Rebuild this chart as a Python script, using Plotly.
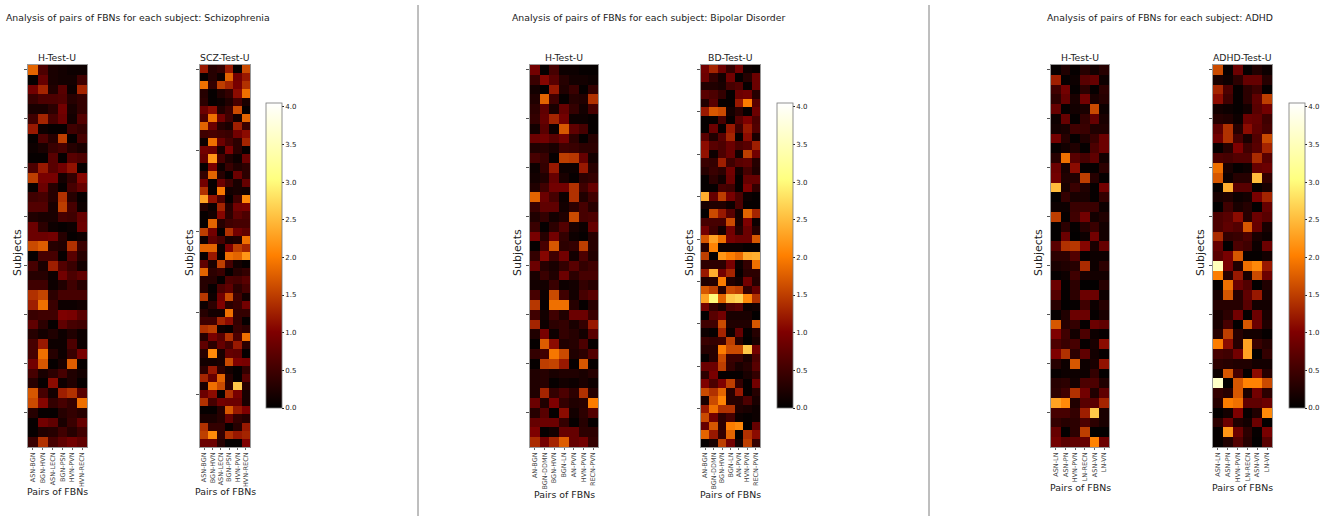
import plotly.graph_objects as go

W = 1325
H = 521

scz_pairs = ["ASN-BGN", "BGN-HVN", "ASN-LECN", "BGN-PSN", "HVN-PVN", "HVN-RECN"]
bd_pairs = ["AN-BGN", "BGN-DDMN", "BGN-HVN", "BGN-LN", "AN-PVN", "HVN-PVN", "RECN-PVN"]
adhd_pairs = ["ASN-LN", "ASN-PN", "HVN-PVN", "LN-RECN", "ASN-VN", "LN-VN"]

h_scz = [
    [1.8, .6, .2, .15, .1, .1], [.05, .8, .2, .15, .15, .5], [.9, 1.3, .25, .7, .1, 1.3],
    [.45, .6, .6, .65, .3, .4], [.2, .2, .35, .9, .2, .4], [.5, 1.3, .55, .85, .15, .65],
    [1.2, .1, .05, .05, .5, .4], [.05, .6, .3, 1.5, .05, .55], [.1, .2, .45, .55, .3, .2],
    [.05, .05, .7, .05, .7, .6], [.6, 1.2, .7, .9, 1.15, .05], [1.5, .95, .95, .15, .4, 1.05],
    [.05, .85, .3, .05, .55, .8], [.5, .55, .3, 1.4, .3, .05], [.65, .65, .2, 1.5, .55, .1],
    [.25, .2, .2, .55, .5, .8], [.85, .35, .1, .05, .1, .85], [.85, .85, .9, .3, .05, .1],
    [1.6, 1.75, .3, .25, 1.4, .45], [.05, .55, .55, .05, .7, .3], [.55, .2, 1.25, .65, .45, .15],
    [.3, .3, .1, .9, .6, .75], [.5, .5, .1, .25, .5, .3], [1.4, 1.55, .35, .55, .55, .55],
    [1.25, 1.9, .45, .1, .1, .15], [.45, .5, .5, 1.0, .95, .7], [.75, .35, .05, .75, .55, .5],
    [.3, .15, .25, .1, .25, .1], [.55, 1.2, .1, .1, .6, .1], [.55, 1.9, .3, .1, .45, .95],
    [.9, 1.7, .05, .2, 1.75, .05], [.55, .2, .35, .55, .25, .15], [.3, .05, 1.1, .1, .25, .05],
    [1.7, .55, .15, 1.25, 1.4, .7], [1.6, 1.05, .4, .55, .4, 1.9], [.3, .05, .05, .3, .4, .3],
    [.05, .9, .75, .2, .45, .8], [.05, .25, .3, .5, .3, .5], [.45, 1.4, .55, .75, .9, .75],
]
scz = [
    [1.2, .3, .4, 1.2, .05, 1.6], [.05, .3, .1, 1.8, .9, 1.2], [1.9, .4, 1.5, 1.3, .95, 1.4],
    [.3, .05, .25, .4, 1.1, 1.9], [.35, .05, .1, .25, .55, .2], [.85, 1.1, .25, .45, 1.6, .05],
    [.6, 1.9, .9, .5, .15, 1.8], [1.8, .85, .3, .2, 1.25, .45], [.5, .55, .5, .45, .9, 1.1],
    [.1, 1.9, .85, .55, .35, 1.3], [.9, .85, .2, 1.0, .35, .05], [.8, 2.2, .55, .25, .1, .85],
    [.05, .95, .1, .45, .25, .35], [.4, 1.8, .3, .05, .85, .35], [.9, .05, .85, .5, .2, .8],
    [1.4, .05, 1.95, .15, .2, .15], [2.3, 1.15, .6, .05, .5, 2.1], [.3, .1, 1.3, .3, .9, .95],
    [.05, .15, 1.05, .35, .75, .6], [.05, 1.8, .3, .5, .55, .55], [1.5, .9, .05, 1.4, .9, .75],
    [.1, .75, .55, .2, .25, 1.9], [1.8, 1.8, .1, 1.0, 1.5, 1.3], [.05, 1.2, .05, 1.9, 1.8, 2.2],
    [.75, .2, 1.5, .55, .15, .05], [1.8, .35, .45, .05, .3, .4], [.3, .3, .05, .6, .55, .7],
    [.3, .05, .6, .75, .35, .55], [1.45, .1, .9, 1.6, .5, .15], [.1, .35, 1.0, .35, .45, .9],
    [.3, .15, .15, 1.9, .4, .4], [.5, .5, 1.3, 1.1, .4, .05], [1.4, 1.5, .1, .05, .45, .35],
    [.3, .95, .7, 1.4, .6, 1.9], [.75, .35, .8, .55, 1.2, .35], [.3, 2.1, .2, .8, .75, .05],
    [.15, .15, .2, 1.6, 1.0, .95], [.35, 1.2, .35, .15, .05, .4], [1.3, .8, 1.8, .3, .05, .7],
    [.2, 1.9, 1.6, .35, 2.6, .3], [.85, 1.1, .05, 1.4, .95, .2], [1.4, .55, .9, .85, .85, .2],
    [.05, .05, .3, 1.7, 1.2, 1.0], [.2, .2, .3, .8, .4, .3], [1.4, .4, .4, .05, .3, 1.2],
    [1.5, 2.1, .4, 1.4, 1.2, 1.3], [.85, .85, .3, .05, .05, 1.0],
]
h_bd = [
    [.9, .05, .55, .1, .1, .05, .05], [.45, 1.05, .7, .3, .15, .15, .1], [.15, .02, 1.2, .25, .45, .05, .4],
    [.25, 1.8, .5, .05, .3, .25, 1.4], [.35, .75, .2, .8, .4, .15, .55], [.4, .8, 1.3, .9, .1, .1, .05],
    [.15, .7, .1, 1.7, .75, .55, .05], [.85, .9, .7, .9, .35, .05, .3], [.25, .3, .2, .5, .45, .35, .35],
    [.55, .45, .05, 1.5, 1.45, .8, .15], [.1, .4, 1.2, .1, .1, 1.2, .3], [.15, .25, .8, .2, .05, .35, .4],
    [.25, .5, .9, .9, 1.4, .5, .8], [1.8, .85, .55, .1, 1.4, .25, .5], [.45, .75, .75, .15, .35, .55, .3],
    [.25, .4, .15, .25, 1.6, .55, .6], [.45, .05, .35, .65, .2, .1, .8], [.95, .3, .9, .4, .1, .05, .3],
    [.05, .55, 1.7, .35, .4, 1.5, .3], [.4, 1.05, .5, .9, .15, .6, .25], [.85, .3, .2, .4, .7, .4, .5],
    [.2, .45, .25, .85, .35, .55, .55], [.15, .15, .45, .1, .15, .4, .3], [.55, .1, 1.6, .5, .15, .55, .7],
    [1.45, .05, 1.9, 1.9, .3, .05, .3], [.5, .15, .5, .25, .85, .85, .45], [1.3, .1, .35, .4, .2, .4, 1.2],
    [.25, .95, .1, .4, .3, .15, .7], [.05, 1.75, 1.1, .25, .3, .6, .05], [.4, .5, 1.95, 1.6, .25, .35, .65],
    [.05, 1.5, 1.55, 1.2, .05, 1.7, .05], [.25, .3, .2, .25, .25, .2, .3], [.25, .3, .05, .15, .1, .2, .1],
    [.25, 1.3, .4, .6, .35, 1.4, .3], [.85, .25, 1.0, .4, .25, .3, 2.0], [.3, .7, .03, 1.1, .15, .35, .65],
    [.8, .85, .85, .4, .05, .3, .05], [1.0, .05, .15, .8, .8, .35, .35], [1.35, .9, 1.3, 1.75, .8, .9, .4],
]
bd = [
    [.9, 1.3, .85, .4, .9, .1, .05], [.85, .4, .15, .9, .05, .3, .85], [.25, .25, .2, .55, .65, .05, .85],
    [.7, .6, .4, .05, .85, .9, .3], [.25, .7, .05, .05, 1.2, 2.0, .7], [1.2, 1.7, 1.6, .15, .35, .05, .85],
    [.05, .05, .55, .05, .7, 1.0, .6], [.05, .85, .05, 1.2, .5, 1.2, .65], [.7, .25, .7, 1.3, .05, 1.1, .2],
    [1.1, .7, .6, .85, .6, .7, 1.25], [1.15, .1, .6, .85, .15, 1.5, .9], [.45, .4, 1.25, .5, .7, .75, .3],
    [.3, .45, .35, .9, .15, .55, .25], [.05, .35, .15, .85, .05, .8, .8], [.05, .05, .55, .5, .05, 1.0, .4],
    [2.4, .8, 1.5, .95, .6, .1, .05], [.2, .25, .25, .1, .6, .05, .05], [.02, 1.6, 1.2, .7, .15, 1.8, 1.3],
    [.55, .55, .55, 1.6, .2, 1.0, .1], [.9, .5, .15, .9, .3, .85, .3], [1.7, 2.3, 1.9, .95, .85, .85, 1.7],
    [.3, 2.05, .1, .1, .1, .05, .05], [1.5, .05, 2.2, 2.0, 1.85, 2.35, 2.4], [.35, .35, .35, .95, .1, .4, 1.9],
    [1.2, 2.4, .9, 1.3, .05, .35, .35], [.25, .3, 2.0, .25, .15, .9, .3], [1.7, 1.5, .3, 1.6, 1.5, .4, .8],
    [2.3, 3.0, 1.8, 2.6, 2.7, 2.1, 1.4], [.9, .4, .2, .6, .7, .1, .15], [.02, .7, .9, .2, .2, .2, .02],
    [.5, .5, 1.6, .25, .25, .25, 1.7], [.1, .05, 1.3, .1, .8, .05, .3], [.45, .4, .45, 1.5, .3, .02, .2],
    [.3, .3, 2.0, 1.6, 1.6, 2.6, .9], [.05, .3, 1.6, .45, .45, .2, .6], [.85, .85, 1.5, .4, .2, .3, .7],
    [.35, .95, .05, .05, .05, .2, .4], [1.0, .6, 1.0, 1.5, .4, .05, .9], [1.6, 1.4, 1.8, .3, 1.2, .05, .3],
    [.2, 1.6, 2.05, .3, .3, .6, .2], [1.2, 1.9, 1.4, 1.4, .25, .2, .1], [1.6, .9, .35, .55, .1, .05, .1],
    [.8, 1.7, .35, 2.0, 2.1, .02, .8], [1.8, 1.2, .4, 1.8, .02, 1.4, 1.1], [.05, .2, 1.5, .9, .15, 1.5, .4],
]
h_adhd = [
    [.05, .25, .05, .3, .15, .3], [1.25, .05, .1, .7, .8, .1], [.5, .9, .05, .35, .05, .35],
    [.35, .8, .2, .9, .2, .3], [.8, .05, .15, .2, 1.6, .1], [.1, .8, .05, .4, .8, .2],
    [.15, .2, .5, .45, .25, .25], [.9, .3, .05, .25, .45, .85], [.05, .15, .25, .05, .6, .85],
    [.3, 1.9, .7, .55, .75, .15], [.85, .2, 1.1, .05, .05, .35], [.9, .25, .25, 1.5, .3, .05],
    [2.5, .2, .45, .25, .05, .9], [.02, .4, .2, .2, .05, .4], [.1, .1, .45, .45, .45, .1],
    [1.5, .05, .5, .9, .15, .25], [.02, .35, .05, .3, .45, .15], [.02, .85, .02, .1, .9, .15],
    [.7, 1.4, 1.45, 1.05, .2, .8], [.35, .35, .65, .05, .1, .1], [.2, .25, .3, 1.35, .1, .35],
    [.05, .1, .5, .2, .15, .15], [.85, .05, .35, .02, .02, .3], [.65, .05, .35, .85, .85, .1],
    [.3, .02, .05, .5, .1, .3], [.05, .25, .85, .85, .05, .2], [1.7, .3, .4, .05, .85, .75],
    [1.0, .5, .15, .6, .1, .05], [.6, .45, .55, .05, .2, 1.1], [1.0, 1.4, .35, .75, .15, .05],
    [.3, .1, 1.7, .1, .2, 1.15], [.05, .1, .1, .1, .4, .02], [.3, .35, .15, .6, .6, .25],
    [.35, .5, 1.4, .9, .25, .75], [2.3, 2.1, .25, .7, .7, 1.3], [.55, .55, .4, 1.25, 2.6, .2],
    [.4, .3, .35, .6, .35, .2], [.8, .02, .35, 1.5, .02, .02], [.9, .7, .75, .8, 2.05, .85],
]
adhd = [
    [1.6, .05, .85, .05, .25, .1], [.2, .1, .35, .8, .8, .3], [1.3, .6, .05, .35, .5, .05],
    [1.1, .5, .05, .35, .75, 1.5], [.15, .1, .05, .15, .7, .9], [.3, .25, .1, .85, .8, .5],
    [.75, 1.4, .3, 1.1, .75, .55], [.9, 1.4, .55, .2, .65, 1.6], [.05, .3, 1.0, .5, .7, 1.3],
    [.6, .55, .65, .65, 1.35, .7], [1.9, .2, .05, .1, .8, .85], [1.7, .1, .3, .3, 2.5, .4],
    [.05, 2.4, .7, .7, .05, .2], [.2, .25, .1, .15, .95, 1.3], [.02, .5, .2, .3, .02, .8],
    [.6, .7, 1.1, .3, .85, .7], [.6, .75, .65, 1.7, .8, .2], [1.35, .4, .45, .6, .2, .1],
    [.8, .02, .6, .5, .1, .85], [.7, .95, 1.7, .05, .05, .15], [3.5, .95, .25, 1.9, 2.1, 1.2],
    [2.0, .3, 1.2, .2, 1.6, .85], [.05, 1.9, .85, .65, .02, .25], [.2, 1.7, .3, .75, 1.2, .2],
    [.3, .3, .3, .7, .15, .15], [.2, .35, .9, .05, .85, .2], [.2, .55, .02, 1.7, .85, .25],
    [.3, 1.5, .3, .15, .15, .05], [2.0, 1.1, .3, 2.3, .45, .3], [.55, .5, .9, 2.3, .02, .4],
    [.35, .3, .25, .25, .15, .15], [.1, 1.7, .55, .03, 1.1, .3], [3.6, .02, 1.7, 2.05, 2.05, 1.6],
    [.4, .3, 1.7, .2, .9, .35], [.3, 2.0, 1.9, .75, .75, .85], [.02, .15, 1.0, .05, .25, 2.1],
    [.35, .85, .25, .15, .85, .02], [.05, 2.2, .85, .35, .05, .95], [.05, .25, .65, .3, .02, .7],
]

# matplotlib afmhot
afmhot = [[0, "#000000"], [.25, "#800000"], [.5, "#ff8000"], [.75, "#ffff80"], [1, "#ffffff"]]
zmax = 4.05
font = "DejaVu Sans"
txt = "#222222"

# title, z, pairs, left px, right px, y tick step, x of the Subjects label, y of the Pairs label
panels = [
    ("H-Test-U", h_scz, scz_pairs, 28, 87, 5, 18, 491),
    ("SCZ-Test-U", scz, scz_pairs, 200, 250, 10, 190, 491),
    ("H-Test-U", h_bd, bd_pairs, 530, 598, 5, 518, 494),
    ("BD-Test-U", bd, bd_pairs, 701, 760, 5, 690, 494),
    ("H-Test-U", h_adhd, adhd_pairs, 1051, 1109, 5, 1039, 487),
    ("ADHD-Test-U", adhd, adhd_pairs, 1213, 1272, 5, 1201, 487),
]
# colorbar left px for the second panel of each pair
bars = {1: 266, 3: 777, 5: 1289}
top, bottom = 65, 447

fig = go.Figure()
notes = []


def px(x):
    return x / W


def py(y):
    return 1 - y / H


def note(text, x, y, size, angle=0, xanchor="center"):
    notes.append(dict(text=text, x=px(x), y=py(y), xref="paper", yref="paper", showarrow=False,
                      xanchor=xanchor, yanchor="middle", textangle=angle,
                      font=dict(family=font, size=size, color=txt)))


for i, (title, z, pairs, x0, x1, step, sub_x, pair_y) in enumerate(panels):
    n = str(i + 1) if i else ""
    trace = dict(z=z, x=pairs, y=list(range(len(z))), xaxis="x" + n, yaxis="y" + n,
                 colorscale=afmhot, zmin=0, zmax=zmax, showscale=False, hoverongaps=False)
    if i in bars:
        trace["showscale"] = True
        trace["colorbar"] = dict(x=px(bars[i]), xanchor="left", y=py(408), yanchor="bottom",
                                 len=305 / H, lenmode="fraction", thickness=16, thicknessmode="pixels",
                                 xpad=0, ypad=0, tickvals=[0, .5, 1, 1.5, 2, 2.5, 3, 3.5, 4],
                                 ticktext=["0.0", "0.5", "1.0", "1.5", "2.0", "2.5", "3.0", "3.5", "4.0"],
                                 ticks="outside", ticklen=2, tickwidth=.6, tickcolor=txt,
                                 tickfont=dict(family=font, size=7, color=txt),
                                 outlinecolor="#777777", outlinewidth=.8)
    fig.add_trace(go.Heatmap(**trace))
    fig.layout["xaxis" + n] = dict(domain=[px(x0), px(x1)], anchor="y" + n, tickangle=-90,
                                   tickfont=dict(family=font, size=6.5, color="#444444"),
                                   ticks="outside", ticklen=2, tickwidth=.5, tickcolor="#666666",
                                   showline=True, linecolor="#999999", linewidth=.7, mirror=True,
                                   showgrid=False, zeroline=False)
    fig.layout["yaxis" + n] = dict(domain=[py(bottom), py(top)], anchor="x" + n, autorange="reversed",
                                   tickmode="array", tickvals=list(range(0, len(z), step)),
                                   showticklabels=False, ticks="outside", ticklen=3, tickwidth=.6,
                                   tickcolor="#555555", showline=True, linecolor="#999999",
                                   linewidth=.7, mirror=True, showgrid=False, zeroline=False)
    note(title, (x0 + x1) / 2, 58, 9.3)
    note("Subjects", sub_x, 253, 11, angle=-90)
    note("Pairs of FBNs", (x0 + x1) / 2, pair_y, 9.4)

note("Analysis of pairs of FBNs for each subject: Schizophrenia", 4, 18, 9.3, xanchor="left")
note("Analysis of pairs of FBNs for each subject: Bipolar Disorder", 510, 18, 9.3, xanchor="left")
note("Analysis of pairs of FBNs for each subject: ADHD", 1045, 18, 9.3, xanchor="left")

lines = [dict(type="line", xref="paper", yref="paper", x0=px(x), x1=px(x), y0=py(516), y1=py(5),
              line=dict(color="#7f7f7f", width=1)) for x in (418, 929)]

fig.update_layout(width=W, height=H, margin=dict(l=0, r=0, t=0, b=0), paper_bgcolor="white",
                  plot_bgcolor="white", annotations=notes, shapes=lines, showlegend=False)

# the browser's default body margin would push the figure off by 8px
fig.write_html("out.html", config={"displayModeBar": False},
               post_script="document.body.style.margin='0';document.body.style.overflow='hidden';")
